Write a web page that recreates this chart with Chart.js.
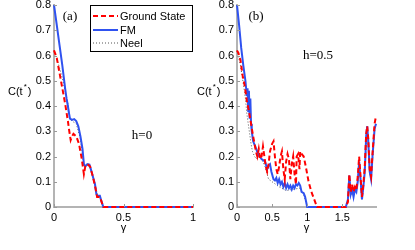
<!DOCTYPE html>
<html lang="en">
<head>
    <meta charset="UTF-8">
    <title>C(t*) vs gamma</title>
    <script src="https://cdn.jsdelivr.net/npm/chart.js"></script>
    <style>
        body { margin: 0; background: #fff; width: 415px; height: 250px; position: relative; overflow: hidden; }
        canvas { position: absolute; top: 0; }
        #chartA { left: 0; }
        #chartB { left: 195px; }
    </style>
</head>
<body>

<canvas id="chartA" width="200" height="250"></canvas>
<canvas id="chartB" width="220" height="250"></canvas>

<script>
    // tick labels
    const yTicks = [0, 0.1, 0.2, 0.3, 0.4, 0.5, 0.6, 0.7, 0.8];
    const aXTicks = [0, 0.5, 1];
    const bXTicks = [0, 0.5, 1, 1.5];
    const legendLabels = ['Ground State', 'FM', 'Neel'];

    // panel (a), h=0
    const aGsX = [0, 0.02, 0.04, 0.06, 0.08, 0.1, 0.11, 0.12, 0.13, 0.14, 0.16, 0.18, 0.2, 0.215, 0.225, 0.24, 0.26, 0.28, 0.3, 0.31, 0.33, 0.355, 1];
    const aGsY = [0.62, 0.59, 0.53, 0.47, 0.41, 0.34, 0.30, 0.265, 0.28, 0.29, 0.28, 0.25, 0.19, 0.13, 0.16, 0.17, 0.16, 0.12, 0.07, 0.04, 0.04, 0, 0];
    const aFmX = [0, 0.02, 0.04, 0.06, 0.08, 0.09, 0.1, 0.105, 0.115, 0.13, 0.145, 0.16, 0.175, 0.19, 0.205, 0.215, 0.225, 0.24, 0.255, 0.265, 0.28, 0.295, 0.305, 0.315, 0.33, 0.34, 0.355, 0.4, 1];
    const aFmY = [0.8, 0.72, 0.64, 0.56, 0.47, 0.43, 0.40, 0.38, 0.35, 0.345, 0.348, 0.34, 0.32, 0.28, 0.23, 0.17, 0.16, 0.17, 0.168, 0.15, 0.12, 0.09, 0.05, 0.045, 0.045, 0.025, 0, 0, 0];
    const aNeelX = [0, 0.03, 0.06, 0.08, 0.1, 0.115, 0.13, 0.16, 0.19, 0.215, 0.24, 0.265, 0.295, 0.315, 0.33, 0.355, 1];
    const aNeelY = [0.62, 0.57, 0.51, 0.46, 0.41, 0.35, 0.34, 0.33, 0.27, 0.16, 0.165, 0.15, 0.09, 0.045, 0.04, 0, 0];

    // panel (b), h=0.5
    const bGsX = [0, 0.02, 0.05, 0.08, 0.11, 0.14, 0.17, 0.2, 0.23, 0.25, 0.27, 0.29, 0.31, 0.33, 0.35, 0.37, 0.39, 0.41, 0.43, 0.45, 0.47, 0.5, 0.52, 0.54, 0.56, 0.58, 0.6, 0.62, 0.64, 0.66, 0.68, 0.7, 0.72, 0.74, 0.76, 0.78, 0.8, 0.82, 0.84, 0.85, 0.87, 0.89, 0.9, 0.92, 0.95, 0.98, 1.02, 1.06, 1.1, 1.14, 1.55, 1.58, 1.6, 1.62, 1.64, 1.66, 1.68, 1.7, 1.72, 1.74, 1.76, 1.78, 1.8, 1.82, 1.84, 1.855, 1.87, 1.89, 1.91, 1.93, 1.96, 1.98];
    const bGsY = [0.62, 0.61, 0.58, 0.52, 0.48, 0.42, 0.38, 0.33, 0.28, 0.25, 0.22, 0.2, 0.23, 0.19, 0.2, 0.24, 0.2, 0.16, 0.14, 0.17, 0.22, 0.25, 0.26, 0.2, 0.15, 0.13, 0.16, 0.2, 0.22, 0.15, 0.11, 0.18, 0.21, 0.19, 0.11, 0.17, 0.2, 0.13, 0.09, 0.2, 0.21, 0.15, 0.22, 0.21, 0.2, 0.16, 0.1, 0.06, 0.03, 0, 0, 0.02, 0.13, 0.06, 0.09, 0.06, 0.08, 0.07, 0.12, 0.2, 0.12, 0.04, 0.09, 0.16, 0.29, 0.32, 0.27, 0.15, 0.12, 0.21, 0.33, 0.36];
    const bFmX = [0, 0.03, 0.06, 0.09, 0.12, 0.14, 0.15, 0.16, 0.17, 0.18, 0.19, 0.2, 0.21, 0.23, 0.26, 0.3, 0.35, 0.4, 0.43, 0.45, 0.47, 0.49, 0.52, 0.54, 0.56, 0.58, 0.6, 0.62, 0.64, 0.66, 0.68, 0.7, 0.72, 0.74, 0.76, 0.78, 0.8, 0.82, 0.84, 0.86, 0.88, 0.9, 0.92, 0.95, 0.97, 1.0, 1.55, 1.58, 1.6, 1.62, 1.64, 1.66, 1.68, 1.7, 1.72, 1.74, 1.76, 1.78, 1.8, 1.82, 1.84, 1.855, 1.87, 1.89, 1.91, 1.93, 1.96, 1.98];
    const bFmY = [0.8, 0.72, 0.63, 0.56, 0.5, 0.44, 0.47, 0.38, 0.46, 0.35, 0.43, 0.33, 0.3, 0.26, 0.24, 0.21, 0.19, 0.18, 0.15, 0.165, 0.17, 0.14, 0.11, 0.105, 0.115, 0.095, 0.11, 0.09, 0.1, 0.08, 0.095, 0.075, 0.09, 0.075, 0.085, 0.07, 0.085, 0.075, 0.09, 0.085, 0.095, 0.085, 0.06, 0.055, 0.04, 0, 0, 0.03, 0.125, 0.05, 0.07, 0.04, 0.07, 0.06, 0.1, 0.18, 0.11, 0.03, 0.08, 0.14, 0.28, 0.32, 0.26, 0.14, 0.11, 0.2, 0.31, 0.33];
    const bNeelX = [0, 0.05, 0.1, 0.12, 0.14, 0.16, 0.18, 0.2, 0.22, 0.25, 0.28, 0.3, 0.35, 0.4, 0.45, 0.5, 0.55, 0.6, 0.7, 0.8, 0.9, 0.95, 1.0, 1.55, 1.58, 1.6, 1.62, 1.66, 1.7, 1.74, 1.78, 1.82, 1.855, 1.89, 1.91, 1.96, 1.98];
    const bNeelY = [0.62, 0.56, 0.47, 0.43, 0.37, 0.33, 0.29, 0.25, 0.22, 0.2, 0.19, 0.2, 0.19, 0.16, 0.11, 0.1, 0.09, 0.08, 0.065, 0.07, 0.075, 0.05, 0, 0, 0.03, 0.12, 0.05, 0.05, 0.06, 0.17, 0.03, 0.14, 0.31, 0.14, 0.11, 0.3, 0.33];

    const pts = (xs, ys) => xs.map((x, i) => ({ x: x, y: ys[i] }));
    const fmt = v => String(Math.round(v * 10) / 10);
    const sans = '"Liberation Sans", Arial, sans-serif';
    const serif = '"Liberation Serif", "Times New Roman", serif';

    function drawYLabel(ctx, x, y) {
        ctx.fillStyle = '#000';
        ctx.textAlign = 'left';
        ctx.textBaseline = 'alphabetic';
        ctx.font = '11px ' + sans;
        ctx.fillText('C(t', x, y);
        const w = ctx.measureText('C(t').width;
        ctx.font = '8px ' + sans;
        ctx.fillText('*', x + w + 1, y - 6);
        ctx.font = '11px ' + sans;
        ctx.fillText(')', x + w + 5, y);
    }

    function makeChart(id, o) {
        const annot = {
            id: 'annot',
            afterDraw(chart) {
                const ctx = chart.ctx;
                const xs = chart.scales.x, ys = chart.scales.y;
                const a = chart.chartArea;
                ctx.save();
                // small inward ticks
                ctx.strokeStyle = '#999';
                ctx.lineWidth = 1;
                o.xTicks.forEach(v => {
                    const px = Math.round(xs.getPixelForValue(v)) + 0.5;
                    ctx.beginPath(); ctx.moveTo(px, a.bottom); ctx.lineTo(px, a.bottom - 3); ctx.stroke();
                });
                yTicks.forEach(v => {
                    const py = Math.round(ys.getPixelForValue(v)) + 0.5;
                    ctx.beginPath(); ctx.moveTo(a.left, py); ctx.lineTo(a.left + 3, py); ctx.stroke();
                });
                drawYLabel(ctx, o.yLabelX, 95);
                ctx.fillStyle = '#000';
                ctx.font = '11px ' + sans;
                ctx.textAlign = 'center';
                ctx.textBaseline = 'alphabetic';
                ctx.fillText('\u03b3', (a.left + a.right) / 2, 231);
                ctx.font = '13px ' + serif;
                o.notes.forEach(n => ctx.fillText(n[0], n[1], n[2]));
                if (o.legend) {
                    ctx.fillStyle = '#fff';
                    ctx.fillRect(90.5, 5.5, 102, 46);
                    ctx.strokeStyle = '#000';
                    ctx.lineWidth = 1;
                    ctx.strokeRect(90.5, 5.5, 102, 46);
                    const rows = [16, 30, 43];
                    chart.data.datasets.forEach((d, i) => {
                        ctx.strokeStyle = d.borderColor;
                        ctx.lineWidth = d.borderWidth;
                        ctx.setLineDash(d.borderDash || []);
                        ctx.beginPath(); ctx.moveTo(93, rows[i]); ctx.lineTo(118, rows[i]); ctx.stroke();
                        ctx.setLineDash([]);
                        ctx.fillStyle = '#000';
                        ctx.font = '11px ' + sans;
                        ctx.textAlign = 'left';
                        ctx.fillText(legendLabels[i], 120, rows[i] + 4);
                    });
                }
                ctx.restore();
            }
        };
        return new Chart(document.getElementById(id).getContext('2d'), {
            type: 'line',
            data: {
                datasets: [
                    { label: legendLabels[0], data: o.gs, borderColor: '#ff0000', borderWidth: 2, borderDash: [5, 3] },
                    { label: legendLabels[1], data: o.fm, borderColor: '#2f52f0', borderWidth: 2 },
                    { label: legendLabels[2], data: o.neel, borderColor: '#555', borderWidth: 1, borderDash: [1, 2] }
                ]
            },
            options: {
                responsive: false,
                animation: false,
                clip: false,
                elements: { point: { radius: 0 }, line: { tension: 0, fill: false } },
                layout: { padding: { top: 5, left: 0, right: o.padRight, bottom: 0 } },
                plugins: { legend: { display: false }, tooltip: { enabled: false } },
                scales: {
                    x: {
                        type: 'linear', min: 0, max: o.xMax,
                        grid: { display: false, drawTicks: false },
                        border: { color: '#b4b4b4', width: 2 },
                        afterBuildTicks: s => { s.ticks = o.xTicks.map(v => ({ value: v })); },
                        afterFit: s => { s.height = 43; s.paddingLeft = 0; s.paddingRight = 0; },
                        ticks: { color: '#000', font: { family: sans, size: 11 }, padding: 4, maxRotation: 0, callback: fmt }
                    },
                    y: {
                        type: 'linear', min: 0, max: 0.8,
                        grid: { display: false, drawTicks: false },
                        border: { color: '#b4b4b4', width: 2 },
                        afterBuildTicks: s => { s.ticks = yTicks.map(v => ({ value: v })); },
                        afterFit: s => { s.width = o.yWidth; s.paddingTop = 0; s.paddingBottom = 0; },
                        ticks: { color: '#000', font: { family: sans, size: 11 }, padding: 3, callback: fmt }
                    }
                }
            },
            plugins: [annot]
        });
    }

    makeChart('chartA', {
        gs: pts(aGsX, aGsY), fm: pts(aFmX, aFmY), neel: pts(aNeelX, aNeelY),
        xMax: 1, xTicks: aXTicks, yWidth: 54, padRight: 7, yLabelX: 8,
        notes: [['(a)', 70, 20], ['h=0', 142, 139]], legend: true
    });

    makeChart('chartB', {
        gs: pts(bGsX, bGsY), fm: pts(bFmX, bFmY), neel: pts(bNeelX, bNeelY),
        xMax: 1.98, xTicks: bXTicks, yWidth: 42, padRight: 39, yLabelX: 2,
        notes: [['(b)', 61, 20], ['h=0.5', 123, 59]], legend: false
    });
</script>

</body>
</html>
